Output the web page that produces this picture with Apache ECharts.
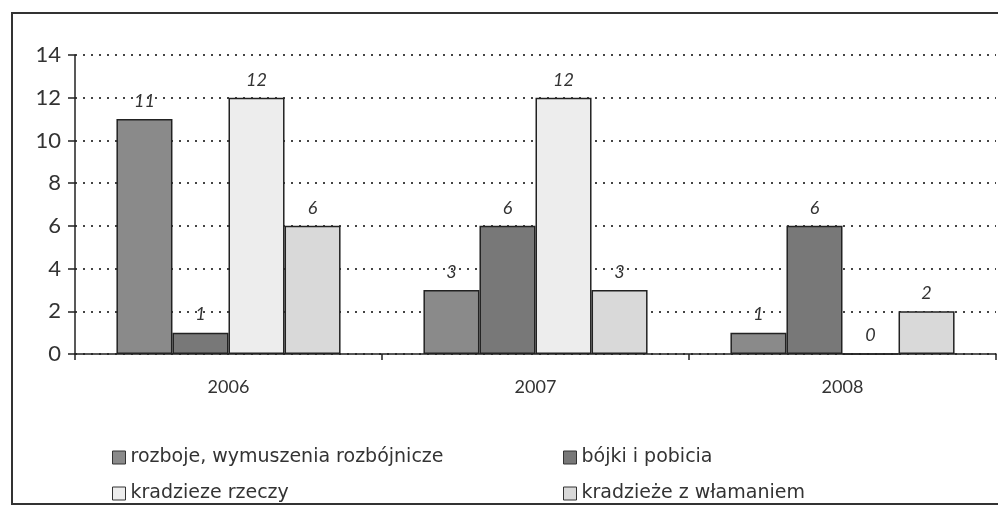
<!DOCTYPE html>
<html>
<head>
<meta charset="utf-8">
<script src="https://cdn.jsdelivr.net/npm/echarts@6/dist/echarts.min.js"></script>
<style>
  html, body { margin: 0; padding: 0; background: #fff; }
  #chart { width: 998px; height: 506px; }
</style>
</head>
<body>
<div id="chart"></div>
<script>
const years = ['2006', '2007', '2008'];
const rozboje = [11, 3, 1];
const bojki = [1, 6, 6];
const kradziezeRzeczy = [12, 12, 0];
const wlamania = [6, 3, 2];
const seriesNames = ['rozboje, wymuszenia rozbójnicze', 'bójki i pobicia', 'kradzieze rzeczy', 'kradzieże z włamaniem'];
const yTicks = [0, 2, 4, 6, 8, 10, 12, 14];

const colors = ['#8a8a8a', '#787878', '#ededed', '#d9d9d9'];
const font = 'Lato, "Open Sans", sans-serif';

const chart = echarts.init(document.getElementById('chart'));

function bar(name, data, i) {
  return {
    name: name,
    type: 'bar',
    data: data,
    barGap: '0%',
    barCategoryGap: '27%',
    itemStyle: { color: colors[i], borderColor: '#222', borderWidth: 1.5 },
    label: {
      show: true,
      position: 'top',
      distance: 9,
      fontStyle: 'italic',
      fontFamily: font,
      fontSize: 18,
      color: '#333'
    }
  };
}

// one legend per item so the two columns sit where the reference has them
function legendAt(name, left, top) {
  return {
    data: [name],
    left: left,
    top: top,
    itemWidth: 13,
    itemHeight: 13,
    itemGap: 6,
    icon: 'rect',
    itemStyle: { borderColor: '#333', borderWidth: 1 },
    textStyle: { fontFamily: '"DejaVu Sans", sans-serif', fontSize: 19, color: '#333' }
  };
}

chart.setOption({
  color: colors,
  animation: false,
  graphic: [{
    type: 'rect',
    shape: { x: 12, y: 13, width: 1000, height: 491 },
    style: { fill: 'none', stroke: '#333', lineWidth: 2 },
    z: -1
  }],
  grid: { left: 75, right: 2, top: 55, height: 299 },
  legend: [
    legendAt(seriesNames[0], 107, 443),
    legendAt(seriesNames[1], 558, 443),
    legendAt(seriesNames[2], 107, 479),
    legendAt(seriesNames[3], 558, 479)
  ],
  xAxis: {
    type: 'category',
    data: years,
    axisLine: { lineStyle: { color: '#222', width: 1.5 } },
    axisTick: { show: true, length: 6, lineStyle: { color: '#222', width: 1.5 } },
    axisLabel: { margin: 24, fontFamily: font, fontSize: 18, color: '#333' }
  },
  yAxis: {
    type: 'value',
    min: yTicks[0],
    max: yTicks[yTicks.length - 1],
    interval: 2,
    axisLine: { show: true, lineStyle: { color: '#222', width: 1.5 } },
    axisTick: { show: true, length: 7, lineStyle: { color: '#222', width: 1.5 } },
    axisLabel: { margin: 14, fontFamily: font, fontSize: 22, color: '#333' },
    splitLine: { lineStyle: { color: '#444', type: [2, 6], width: 2 } }
  },
  series: [
    bar(seriesNames[0], rozboje, 0),
    bar(seriesNames[1], bojki, 1),
    bar(seriesNames[2], kradziezeRzeczy, 2),
    bar(seriesNames[3], wlamania, 3)
  ]
});
</script>
</body>
</html>
